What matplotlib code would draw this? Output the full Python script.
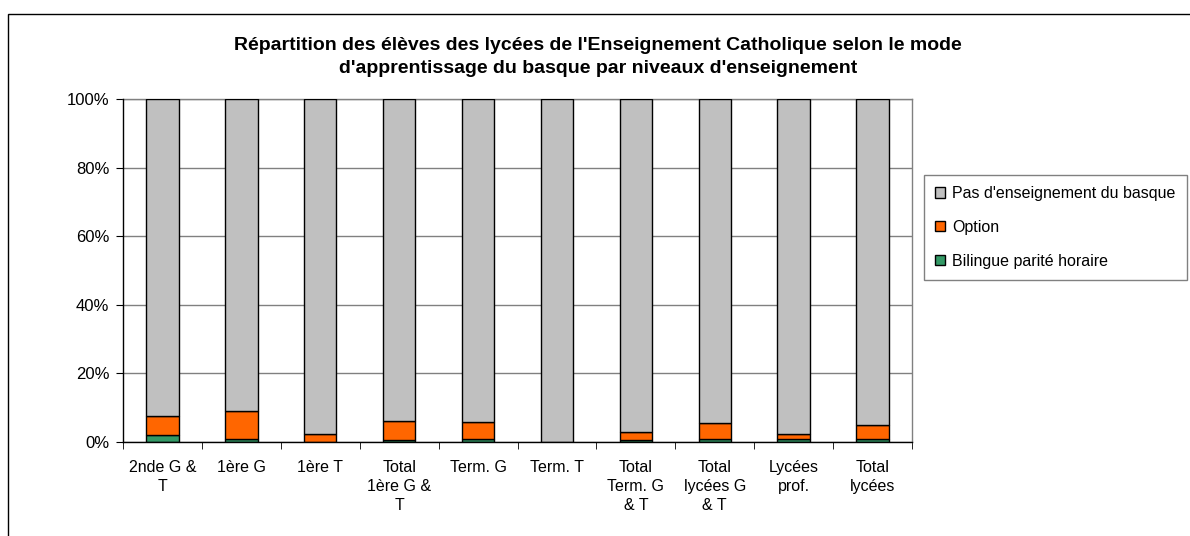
import numpy as np
import matplotlib
matplotlib.use("Agg")
import matplotlib.pyplot as plt
from matplotlib.patches import Rectangle

plt.rcParams['font.family'] = ['Liberation Sans', 'DejaVu Sans']

# categories (x tick labels, wrapped like the original)
categories = ["2nde G &\nT", "1ère G", "1ère T", "Total\n1ère G &\nT", "Term. G",
              "Term. T", "Total\nTerm. G\n& T", "Total\nlycées G\n& T",
              "Lycées\nprof.", "Total\nlycées"]

# shares in %
bilingue = [2.0, 1.0, 0.0, 0.6, 0.9, 0.0, 0.5, 1.0, 0.9, 0.9]
option = [5.6, 7.9, 2.4, 5.6, 4.8, 0.0, 2.3, 4.6, 1.5, 4.0]
pas_enseignement = [100 - b - o for b, o in zip(bilingue, option)]

fig = plt.figure(figsize=(11.9, 5.36), dpi=100)
ax = fig.add_axes([0.1034, 0.1754, 0.6630, 0.6399])

x = np.arange(len(categories))
w = 0.41
bot2 = np.array(bilingue) + np.array(option)
b1 = ax.bar(x, bilingue, w, color="#339966", edgecolor="black", linewidth=1, zorder=3)
b2 = ax.bar(x, option, w, bottom=bilingue, color="#FF6600", edgecolor="black", linewidth=1, zorder=3)
b3 = ax.bar(x, pas_enseignement, w, bottom=bot2, color="#C0C0C0", edgecolor="black", linewidth=1, zorder=3)

ax.set_xlim(-0.5, len(categories) - 0.5)
ax.set_ylim(0, 100)
ax.set_yticks([0, 20, 40, 60, 80, 100])
ax.set_yticklabels(["0%", "20%", "40%", "60%", "80%", "100%"], fontsize=12)
ax.yaxis.grid(True, color="#808080", linewidth=1, zorder=0)

ax.set_xticks(x)
ax.set_xticklabels(categories, fontsize=11.5, linespacing=1.35, va="top")
ax.set_xticks(np.arange(len(categories) + 1) - 0.5, minor=True)
ax.tick_params(axis="x", which="major", length=0, pad=13)
ax.tick_params(axis="x", which="minor", length=5, direction="out", color="black")
ax.tick_params(axis="y", length=5, direction="out", pad=5)

for s in ["left", "bottom"]:
    ax.spines[s].set_color("black")
    ax.spines[s].set_linewidth(1)
for s in ["top", "right"]:
    ax.spines[s].set_color("#808080")
    ax.spines[s].set_linewidth(1)
ax.spines["left"].set_zorder(4)
ax.spines["bottom"].set_zorder(4)

fig.text(0.5025, 0.893,
         "Répartition des élèves des lycées de l'Enseignement Catholique selon le mode\n"
         "d'apprentissage du basque par niveaux d'enseignement",
         ha="center", va="center", fontsize=14, fontweight="bold", linespacing=1.45)

leg = fig.legend([b3, b2, b1],
                 ["Pas d'enseignement du basque", "Option", "Bilingue parité horaire"],
                 loc="upper left", bbox_to_anchor=(924 / 1190, 1 - 175 / 536),
                 fontsize=11.5, frameon=True, fancybox=False, edgecolor="#606060",
                 handlelength=0.6, handleheight=0.6, handletextpad=0.45,
                 labelspacing=1.17, borderpad=0.7, borderaxespad=0)
leg.get_frame().set_linewidth(1)

# outer chart border
fig.patches.append(Rectangle((8 / 1190, -0.05), 1.2, 1 - 14 / 536 + 0.05,
                             transform=fig.transFigure, fill=False,
                             edgecolor="black", linewidth=1))

fig.savefig("out.png", dpi=100)
